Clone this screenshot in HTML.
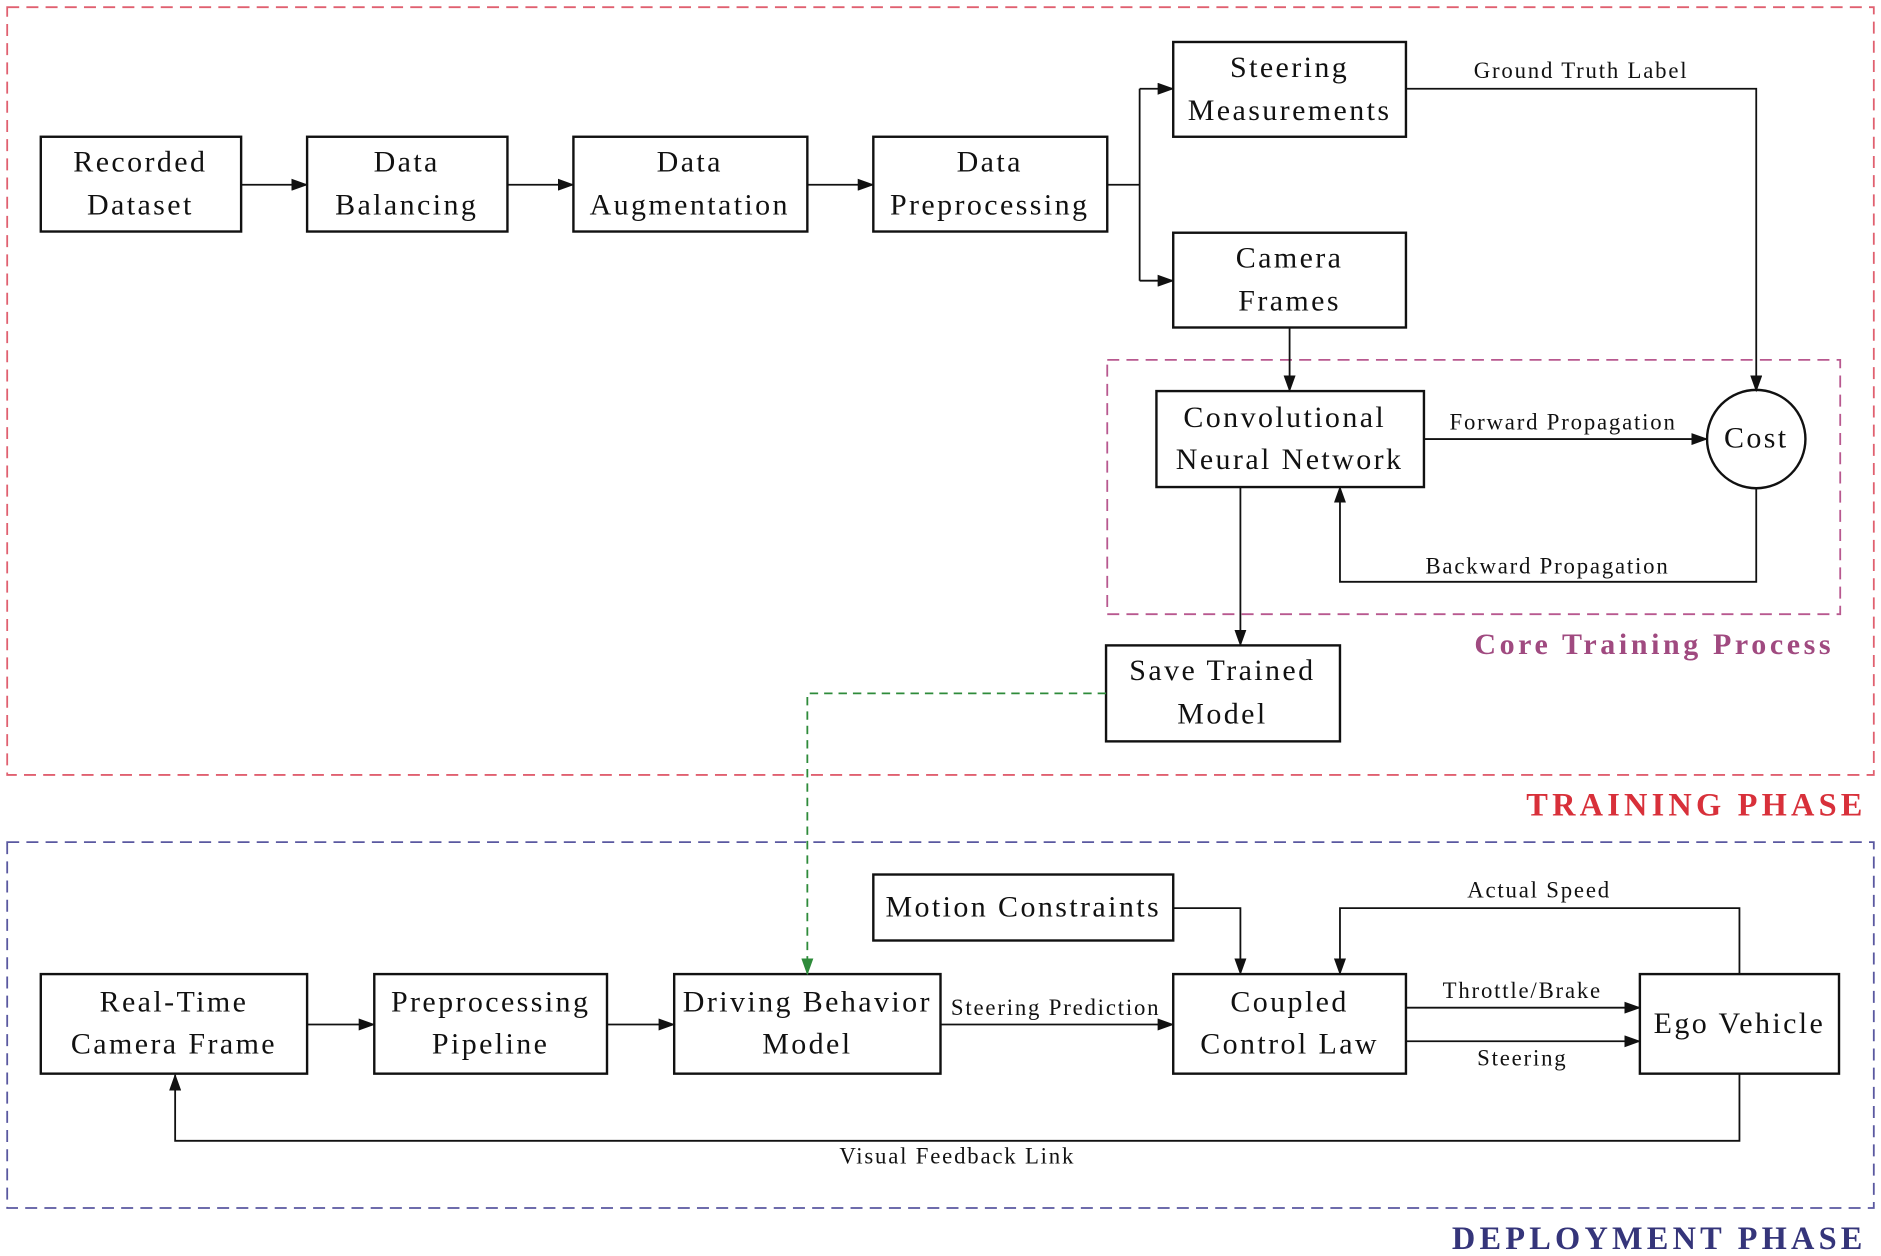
<!DOCTYPE html>
<html><head><meta charset="utf-8">
<style>
html,body{margin:0;padding:0;background:#fff;}
svg{display:block;}
text{font-family:"Liberation Serif",serif;fill:#111;}
.n{font-size:25px;text-anchor:middle;letter-spacing:2px;}
.e{font-size:19px;text-anchor:middle;letter-spacing:1.5px;}
</style></head><body>
<svg width="1881" height="1256" viewBox="0 0 1568 1047" xmlns="http://www.w3.org/2000/svg">
<defs>
<marker id="a" markerWidth="14" markerHeight="10" refX="13" refY="5" orient="auto" markerUnits="userSpaceOnUse"><path d="M0,0 L14,5 L0,10 Z" fill="#111"/></marker>
<marker id="g" markerWidth="14" markerHeight="10" refX="13" refY="5" orient="auto" markerUnits="userSpaceOnUse"><path d="M0,0 L14,5 L0,10 Z" fill="#2e8b3a"/></marker>
</defs>
<rect width="1568" height="1047" fill="#fff"/>
<rect x="6" y="6" width="1556" height="640" fill="none" stroke="#e06070" stroke-width="1.5" stroke-dasharray="10,6"/>
<text x="1556" y="680" style="font-size:27px;font-weight:bold;fill:#d8303a;letter-spacing:3.5px" text-anchor="end">TRAINING PHASE</text>
<rect x="6" y="702" width="1556" height="305" fill="none" stroke="#5a58a0" stroke-width="1.5" stroke-dasharray="10,6"/>
<text x="1556" y="1041" style="font-size:27px;font-weight:bold;fill:#35357a;letter-spacing:3.5px" text-anchor="end">DEPLOYMENT PHASE</text>
<rect x="923" y="300" width="611" height="212" fill="none" stroke="#b8588f" stroke-width="1.5" stroke-dasharray="10,6"/>
<text x="1529" y="545" style="font-size:25px;font-weight:bold;fill:#a04a80;letter-spacing:3px" text-anchor="end">Core Training Process</text>

<g fill="#fff" stroke="#111" stroke-width="2">
<rect x="34" y="114" width="167" height="79"/>
<rect x="256" y="114" width="167" height="79"/>
<rect x="478" y="114" width="195" height="79"/>
<rect x="728" y="114" width="195" height="79"/>
<rect x="978" y="35" width="194" height="79"/>
<rect x="978" y="194" width="194" height="79"/>
<rect x="964" y="326" width="223" height="80"/>
<circle cx="1464" cy="366" r="41"/>
<rect x="922" y="538" width="195" height="80"/>
<rect x="34" y="812" width="222" height="83"/>
<rect x="312" y="812" width="194" height="83"/>
<rect x="562" y="812" width="222" height="83"/>
<rect x="728" y="729" width="250" height="55"/>
<rect x="978" y="812" width="194" height="83"/>
<rect x="1367" y="812" width="166" height="83"/>
</g>

<g>
<text class="n" x="117" y="143">Recorded</text><text class="n" x="117" y="179">Dataset</text>
<text class="n" x="339" y="143">Data</text><text class="n" x="339" y="179">Balancing</text>
<text class="n" x="575" y="143">Data</text><text class="n" x="575" y="179">Augmentation</text>
<text class="n" x="825" y="143">Data</text><text class="n" x="825" y="179">Preprocessing</text>
<text class="n" x="1075" y="64">Steering</text><text class="n" x="1075" y="100">Measurements</text>
<text class="n" x="1075" y="223">Camera</text><text class="n" x="1075" y="259">Frames</text>
<text class="n" x="1071" y="356">Convolutional</text><text class="n" x="1075" y="391">Neural Network</text>
<text class="n" x="1464" y="373">Cost</text>
<text class="n" x="1019" y="567">Save Trained</text><text class="n" x="1019" y="603">Model</text>
<text class="n" x="145" y="843">Real-Time</text><text class="n" x="145" y="878">Camera Frame</text>
<text class="n" x="409" y="843">Preprocessing</text><text class="n" x="409" y="878">Pipeline</text>
<text class="n" x="673" y="843">Driving Behavior</text><text class="n" x="673" y="878">Model</text>
<text class="n" x="853" y="764">Motion Constraints</text>
<text class="n" x="1075" y="843">Coupled</text><text class="n" x="1075" y="878">Control Law</text>
<text class="n" x="1450" y="861">Ego Vehicle</text>
</g>

<g fill="none" stroke="#111" stroke-width="1.5">
<path d="M201,154 H256" marker-end="url(#a)"/>
<path d="M423,154 H478" marker-end="url(#a)"/>
<path d="M673,154 H728" marker-end="url(#a)"/>
<path d="M923,154 H950"/>
<path d="M950,74 V234"/>
<path d="M950,74 H978" marker-end="url(#a)"/>
<path d="M950,234 H978" marker-end="url(#a)"/>
<path d="M1172,74 H1464 V326" marker-end="url(#a)"/>
<path d="M1075,273 V326" marker-end="url(#a)"/>
<path d="M1187,366 H1423" marker-end="url(#a)"/>
<path d="M1464,407 V485 H1117 V406" marker-end="url(#a)"/>
<path d="M1034,406 V538" marker-end="url(#a)"/>
<path d="M256,854 H312" marker-end="url(#a)"/>
<path d="M506,854 H562" marker-end="url(#a)"/>
<path d="M784,854 H978" marker-end="url(#a)"/>
<path d="M978,757 H1034 V812" marker-end="url(#a)"/>
<path d="M1450,812 V757 H1117 V812" marker-end="url(#a)"/>
<path d="M1172,840 H1367" marker-end="url(#a)"/>
<path d="M1172,868 H1367" marker-end="url(#a)"/>
<path d="M1450,895 V951 H146 V896" marker-end="url(#a)"/>
</g>
<path d="M922,578 H673 V812" fill="none" stroke="#2e8b3a" stroke-width="1.5" stroke-dasharray="7,5" marker-end="url(#g)"/>

<text class="e" x="1318" y="65">Ground Truth Label</text>
<text class="e" x="1303" y="358">Forward Propagation</text>
<text class="e" x="1290" y="478">Backward Propagation</text>
<text class="e" x="880" y="846">Steering Prediction</text>
<text class="e" x="1283" y="748">Actual Speed</text>
<text class="e" x="1269" y="832">Throttle/Brake</text>
<text class="e" x="1269" y="888">Steering</text>
<text class="e" x="798" y="970">Visual Feedback Link</text>
</svg>
</body></html>
